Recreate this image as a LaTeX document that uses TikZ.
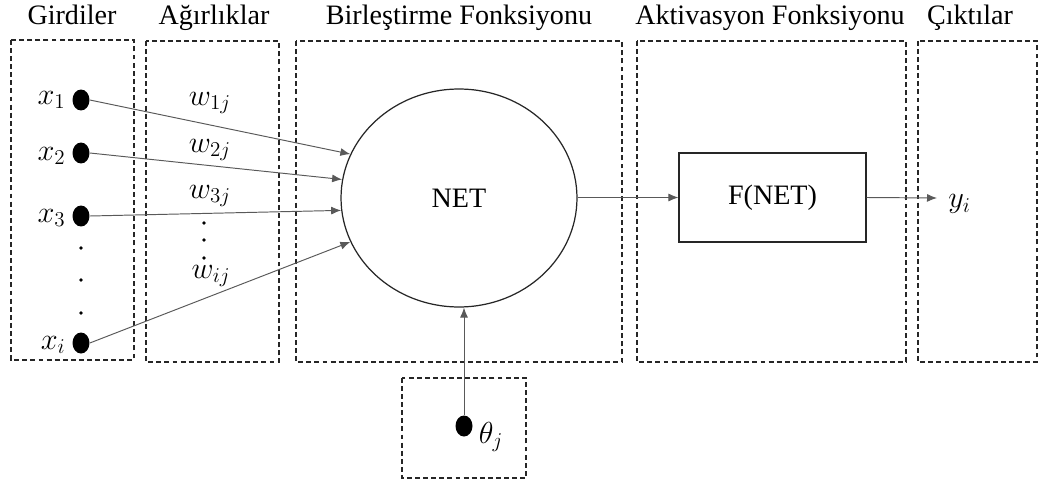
\documentclass[tikz,border=0pt]{standalone}
\usepackage{fontspec}
\setmainfont{Liberation Serif}
\usetikzlibrary{shapes.geometric,arrows.meta}
\begin{document}
\begin{tikzpicture}[x=0.02cm,y=-0.02cm,
  frame/.style={draw=black!85,line width=0.7pt,dash pattern=on 2.8pt off 1.8pt},
  title/.style={font=\fontsize{16}{18}\selectfont,inner sep=0pt,anchor=base},
  sym/.style={font=\fontsize{17}{20}\selectfont,inner sep=0pt},
  dot/.style={ellipse,fill=black,inner sep=0pt,minimum width=0.34cm,minimum height=0.42cm},
  small/.style={circle,fill=black,inner sep=0pt,minimum size=2.2pt},
  link/.style={draw=black!65,line width=0.55pt,-{Latex[length=2mm,width=1.6mm]}},
  every node/.style={text=black}]
\useasboundingbox (0,0) rectangle (1041,483);

% column frames
\draw[frame] (11,40) rectangle (134,360);
\draw[frame] (146,41) rectangle (279,362);
\draw[frame] (296,41) rectangle (622,362);
\draw[frame] (637,41) rectangle (906,362);
\draw[frame] (918,41) rectangle (1037,362);
\draw[frame] (402,378) rectangle (526,478);

% column titles
\node[title] (tin)  at (72,25)  {Girdiler};
\node[title] (tw)   at (214,25) {Ağırlıklar};
\node[title] (tsum) at (459,25) {Birleştirme Fonksiyonu};
\node[title] (tact) at (770,25) {Aktivasyon Fonksiyonu};
\node[title] (tout) at (970,25) {Çıktılar};

% inputs
\node[dot] (x1) at (81,100) {};
\node[dot] (x2) at (81,153) {};
\node[dot] (x3) at (81,216) {};
\node[dot] (xi) at (81,343) {};
\node[sym,anchor=east] (lx1) at (66,100) {$x_1$};
\node[sym,anchor=east] (lx2) at (66,156) {$x_2$};
\node[sym,anchor=east] (lx3) at (66,218) {$x_3$};
\node[sym,anchor=east] (lxi) at (66,345) {$x_i$};
\node[small] (d1) at (81,248) {};
\node[small] (d2) at (81,280) {};
\node[small] (d3) at (81,313) {};

% weights
\node[sym] (w1) at (210,103) {$w_{1j}$};
\node[sym] (w2) at (210,150) {$w_{2j}$};
\node[sym] (w3) at (210,196) {$w_{3j}$};
\node[small] (e1) at (204,223) {};
\node[small] (e2) at (204,240) {};
\node[small] (e3) at (204,258) {};
\node[sym] (wi) at (211,276) {$w_{ij}$};

% summation and activation
\node[ellipse,draw=black!85,line width=0.7pt,minimum width=4.72cm,minimum height=4.36cm,inner sep=0pt,
      font=\fontsize{16}{18}\selectfont] (net) at (459,198) {NET};
\node[rectangle,draw=black!85,line width=0.7pt,minimum width=3.74cm,minimum height=1.78cm,inner sep=0pt,
      font=\fontsize{16}{18}\selectfont] (f) at (772.5,197.5) {F(NET)};

% bias
\node[dot] (th) at (464,426) {};
\node[sym] (lth) at (491,437) {$\theta_j$};

% output
\coordinate (yo) at (937,198);
\node[sym,anchor=west] (y) at (948,204) {$y_i$};

% connectors
\draw[link] (x1.east) -- (net.158);
\draw[link] (x2.east) -- (net.171);
\draw[link] (x3.east) -- (net.186);
\draw[link] (xi.east) -- (net.202);
\draw[link] (th.north) -- (th |- net.south);
\draw[link] (net.east |- f.west) -- (f.west);
\draw[link] (f.east) -- (yo);
\end{tikzpicture}
\end{document}
